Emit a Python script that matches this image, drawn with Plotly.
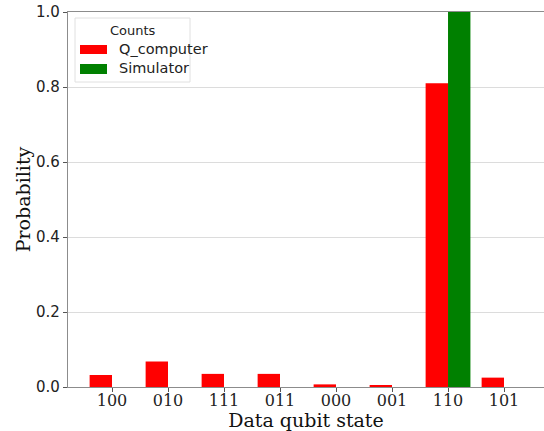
import plotly.graph_objects as go

states = ["100", "010", "111", "011", "000", "001", "110", "101"]
q_computer = [0.032, 0.068, 0.035, 0.035, 0.007, 0.004, 0.810, 0.025]
simulator = [0, 0, 0, 0, 0, 0, 1.0, 0]
y_ticks = [0.0, 0.2, 0.4, 0.6, 0.8, 1.0]

fig = go.Figure()
fig.add_trace(go.Bar(x=list(range(len(states))), y=q_computer, name="Q_computer",
                     marker=dict(color="#ff0000", line=dict(width=0)), showlegend=False))
fig.add_trace(go.Bar(x=list(range(len(states))), y=simulator, name="Simulator",
                     marker=dict(color="#008000", line=dict(width=0)), showlegend=False))

W, H = 544, 431
L, R, T, B = 68, 0, 12, 44
pw, ph = W - L - R, H - T - B

def px(x):
    return (x - L) / pw

def py(y):
    return (H - B - y) / ph

fig.update_layout(
    width=W, height=H,
    margin=dict(l=L, r=R, t=T, b=B, autoexpand=False),
    plot_bgcolor="white", paper_bgcolor="white",
    barmode="group", bargap=0.2, bargroupgap=0,
    xaxis=dict(
        range=[-0.786, 7.714], automargin=False,
        tickmode="array", tickvals=list(range(len(states))), ticktext=states,
        tickfont=dict(family="DejaVu Serif", size=16, color="#222"),
        ticks="outside", ticklen=4, tickcolor="#555", ticklabelstandoff=-5,
        showline=True, linecolor="#8c8c8c", linewidth=1.2, mirror=True,
        showgrid=False, zeroline=False,
        title=dict(text="Data qubit state", font=dict(family="DejaVu Serif", size=19, color="#111"), standoff=0),
    ),
    yaxis=dict(
        range=[0, 1.0], automargin=False,
        tickmode="array", tickvals=y_ticks, ticktext=[f"{v:.1f}" for v in y_ticks],
        tickfont=dict(family="DejaVu Sans", size=15, color="#222"),
        ticks="outside", ticklen=4, tickcolor="#555",
        showline=True, linecolor="#8c8c8c", linewidth=1.2,
        showgrid=True, gridcolor="#dcdcdc", gridwidth=1, zeroline=False,
        title=dict(text="Probability", font=dict(family="DejaVu Serif", size=19, color="#111"), standoff=0),
    ),
)

# manual legend
shapes = [
    dict(type="rect", xref="paper", yref="paper", x0=px(75), x1=px(190), y0=py(82), y1=py(18),
         line=dict(color="#e0e0e0", width=1), fillcolor="rgba(255,255,255,0.8)", layer="above"),
    dict(type="rect", xref="paper", yref="paper", x0=px(80), x1=px(107), y0=py(54), y1=py(45),
         line=dict(width=0), fillcolor="#ff0000", layer="above"),
    dict(type="rect", xref="paper", yref="paper", x0=px(80), x1=px(107), y0=py(74), y1=py(64),
         line=dict(width=0), fillcolor="#008000", layer="above"),
]
annotations = [
    dict(text="Counts", xref="paper", yref="paper", x=px(133), y=py(30), xanchor="center", yanchor="middle",
         showarrow=False, font=dict(family="DejaVu Sans", size=13, color="#222")),
    dict(text="Q_computer", xref="paper", yref="paper", x=px(117), y=py(49), xanchor="left", yanchor="middle",
         showarrow=False, font=dict(family="DejaVu Sans", size=14.5, color="#222")),
    dict(text="Simulator", xref="paper", yref="paper", x=px(117), y=py(68), xanchor="left", yanchor="middle",
         showarrow=False, font=dict(family="DejaVu Sans", size=14.5, color="#222")),
]
fig.update_layout(shapes=shapes, annotations=annotations)

fig.write_html("out.html", config={"displayModeBar": False},
               post_script="document.body.style.margin='0';")
